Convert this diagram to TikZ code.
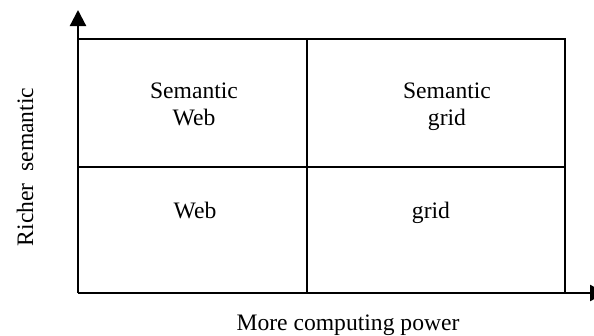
\documentclass[tikz,border=0pt]{standalone}
\usepackage{fontspec}
\setmainfont{Liberation Serif}
\usetikzlibrary{arrows.meta}
\begin{document}
\begin{tikzpicture}[x=1pt,y=-1pt,
  axisline/.style={line width=2.2pt,-{Triangle[width=16pt,length=16pt]}},
  cellline/.style={line width=2pt},
  label/.style={font=\fontsize{23.6}{27}\selectfont,inner sep=0pt,align=center}]
  \useasboundingbox (0,0) rectangle (594,335);
  \clip (0,0) rectangle (594,335);
  % axes
  \coordinate (origin) at (78,293);
  \coordinate (ytip) at (78,10);
  \coordinate (xtip) at (606,293);
  \draw[axisline] (origin) -- (ytip);
  \draw[axisline] (origin) -- (xtip);
  % quadrant grid
  \draw[cellline] (78,39) -- (565,39) -- (565,293);
  \draw[cellline] (307,39) -- (307,293);
  \draw[cellline] (78,167) -- (565,167);
  % quadrant labels (base anchor sits on the last line)
  \node[label,anchor=base] (semweb) at (194,125) {Semantic\\Web};
  \node[label,anchor=base] (semgrid) at (447,125) {Semantic\\grid};
  \node[label,anchor=base] (web) at (195,218) {Web};
  \node[label,anchor=base] (grid) at (431,218) {grid};
  % axis titles
  \node[label,anchor=base,rotate=90] (ylabel) at (33,167) {Richer\ \ semantic};
  \node[label,anchor=base] (xlabel) at (348,330) {More computing power};
\end{tikzpicture}
\end{document}
